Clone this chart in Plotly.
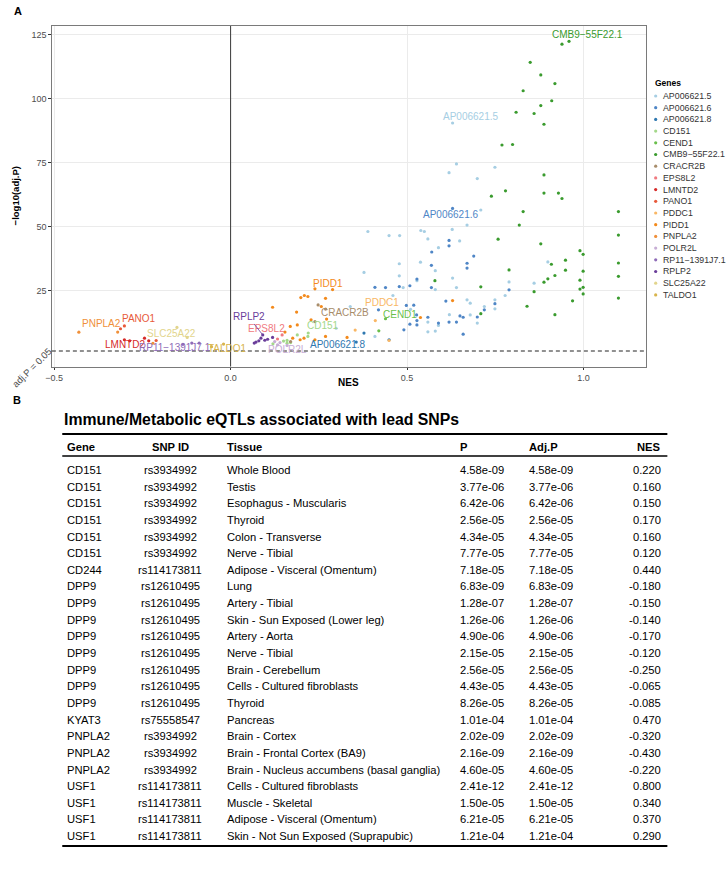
import math
import plotly.graph_objects as go

# ---------------- Panel A data (NES, -log10(adj.P)) ----------------
genes = ["AP006621.5", "AP006621.6", "AP006621.8", "CD151", "CEND1", "CMB9−55F22.1",
         "CRACR2B", "EPS8L2", "LMNTD2", "PANO1", "PDDC1", "PIDD1", "PNPLA2",
         "POLR2L", "RP11−1391J7.1", "RPLP2", "SLC25A22", "TALDO1"]

gene_colors = ["#a6cee3", "#4f86c6", "#2f78b0", "#a4d88a", "#6abf4b", "#3a9b2e",
               "#a88d6b", "#f07a80", "#d62a28", "#e85a3a", "#f9b765", "#f38a1c", "#f0903a",
               "#c7aed5", "#8f6cb8", "#6a3d9a", "#e2d58d", "#d8b44c"]

nes_AP006621_5 = [0.629, 0.640, 0.619, 0.749, 0.699, 0.709, 0.670, 0.628, 0.389, 0.449, 0.479, 0.539,
                  0.549, 0.559, 0.649, 0.589, 0.899, 0.860, 0.789, 0.778, 0.749, 0.749, 0.538, 0.580,
                  0.528, 0.629, 0.489, 0.580, 0.640, 0.670, 0.679, 0.719, 0.620, 0.679, 0.559, 0.589,
                  0.699, 0.559, 0.580, 0.378, 0.478, 0.478, 0.460, 0.339, 0.409, 0.299, 0.510]
lp_AP006621_5 = [90.4, 74.4, 71.0, 73.1, 68.7, 56.4, 50.5, 48.8, 48.0, 46.4, 46.4, 48.4,
                 48.0, 45.1, 44.3, 41.7, 36.1, 27.8, 28.3, 23.0, 21.3, 17.8, 36.0, 32.7,
                 28.8, 29.8, 26.1, 25.3, 26.1, 21.3, 20.0, 18.7, 15.5, 15.4, 12.6, 11.3,
                 12.2, 8.8, 9.1, 32.0, 35.4, 30.7, 23.0, 18.7, 7.0, 10.2, 17.6]

nes_AP006621_6 = [0.629, 0.619, 0.619, 0.570, 0.689, 0.670, 0.670, 0.789, 0.749, 0.569, 0.528, 0.508,
                  0.569, 0.610, 0.719, 0.519, 0.699, 0.650, 0.659, 0.559, 0.528, 0.528, 0.508, 0.491,
                  0.589, 0.619, 0.640, 0.659, 0.478, 0.409, 0.439, 0.419, 0.498, 0.527]
lp_AP006621_6 = [57.0, 44.5, 42.4, 40.0, 38.4, 35.6, 33.7, 25.2, 19.8, 34.8, 29.4, 26.8,
                 26.1, 20.8, 17.4, 19.2, 14.6, 15.0, 14.5, 14.5, 13.2, 11.5, 11.8, 9.6,
                 12.2, 12.6, 12.6, 7.9, 26.5, 26.2, 26.1, 17.4, 19.1, 15.4]

nes_AP006621_8 = [0.356, 0.378, 0.449]
lp_AP006621_8 = [4.8, 8.3, 5.7]

nes_CD151 = [0.220, 0.160, 0.150, 0.170, 0.160, 0.120, 0.219, 0.189]
lp_CD151 = [8.34, 5.42, 5.19, 4.59, 4.36, 4.11, 7.0, 7.6]

nes_CEND1 = [0.439, 0.420]
lp_CEND1 = [13.9, 9.2]

nes_CMB9 = [0.959, 0.939, 0.849, 0.879, 0.919, 0.829, 0.910, 0.879, 0.809, 0.860, 0.888, 0.769,
            0.799, 0.888, 0.779, 0.888, 0.929, 0.939, 0.739, 0.829, 0.818, 0.758, 0.879, 0.909,
            0.949, 0.990, 0.999, 0.949, 0.999, 0.919, 0.899, 0.888, 0.990, 0.990, 0.999, 0.999,
            0.860, 0.840, 0.919, 0.969, 0.789, 1.099, 1.099, 1.099, 1.099, 1.099, 0.579, 0.709,
            0.709]
lp_CMB9 = [122.3, 121.2, 114.1, 109.2, 105.8, 103.0, 99.1, 97.2, 94.6, 94.1, 89.9, 81.8,
           82.0, 70.1, 63.9, 63.0, 63.0, 60.9, 61.8, 55.8, 50.5, 45.0, 43.2, 35.2,
           36.8, 40.5, 39.1, 32.9, 32.5, 30.8, 29.5, 28.2, 29.0, 25.5, 26.2, 23.6,
           24.5, 18.8, 15.5, 20.9, 33.0, 55.8, 46.6, 35.7, 30.5, 22.0, 28.8, 26.4,
           15.9]

nes_CRACR2B = [0.248, 0.269, 0.239, 0.170]
lp_CRACR2B = [19.3, 17.7, 12.8, 5.0]

nes_EPS8L2 = [0.146, 0.133]
lp_EPS8L2 = [7.6, 6.0]

nes_LMNTD2 = [-0.301, -0.286, -0.244, -0.232]
lp_LMNTD2 = [5.7, 5.3, 6.3, 5.3]

nes_PANO1 = [-0.312, -0.301, -0.211]
lp_PANO1 = [10.0, 11.1, 5.4]

nes_PDDC1 = [0.410, 0.353, 0.449]
lp_PDDC1 = [13.2, 9.5, 5.4]

nes_PIDD1 = [0.239, 0.289, 0.199, 0.209, 0.219, 0.269, 0.119, 0.187, 0.257, 0.228, 0.189, 0.272,
             0.330, 0.269, 0.239, 0.197, 0.176, 0.154, 0.629, 0.538, 0.169, 0.208]
lp_PIDD1 = [25.6, 25.3, 22.2, 23.0, 22.6, 21.9, 18.4, 16.5, 18.7, 13.5, 11.5, 13.8,
            6.6, 7.0, 5.7, 5.7, 6.3, 8.7, 21.0, 14.4, 10.9, 6.3]

nes_PNPLA2 = [-0.320, -0.430, -0.220]
lp_PNPLA2 = [8.69, 8.67, 4.34]

nes_POLR2L = [0.133, 0.125, 0.140, 0.160]
lp_POLR2L = [3.7, 5.0, 4.6, 3.5]

nes_RP11 = [-0.110, -0.089, -0.135]
lp_RP11 = [4.4, 4.4, 3.9]

nes_RPLP2 = [0.091, 0.086, 0.080, 0.072, 0.067, 0.105, 0.119, 0.097]
lp_RPLP2 = [7.6, 6.3, 5.3, 4.8, 4.4, 5.9, 6.6, 5.5]

nes_SLC25A22 = [-0.152, -0.123]
lp_SLC25A22 = [10.5, 6.6]

nes_TALDO1 = [-0.054, -0.020]
lp_TALDO1 = [3.0, 4.0]

gene_nes = [nes_AP006621_5, nes_AP006621_6, nes_AP006621_8, nes_CD151, nes_CEND1, nes_CMB9,
            nes_CRACR2B, nes_EPS8L2, nes_LMNTD2, nes_PANO1, nes_PDDC1, nes_PIDD1, nes_PNPLA2,
            nes_POLR2L, nes_RP11, nes_RPLP2, nes_SLC25A22, nes_TALDO1]
gene_lp = [lp_AP006621_5, lp_AP006621_6, lp_AP006621_8, lp_CD151, lp_CEND1, lp_CMB9,
           lp_CRACR2B, lp_EPS8L2, lp_LMNTD2, lp_PANO1, lp_PDDC1, lp_PIDD1, lp_PNPLA2,
           lp_POLR2L, lp_RP11, lp_RPLP2, lp_SLC25A22, lp_TALDO1]

# gene label placement (data coords of label centre)
label_x = [0.679, 0.622, 0.303, 0.263, 0.481, 1.011, 0.325, 0.103, -0.299, -0.261, 0.430, 0.275,
           -0.367, 0.161, -0.157, 0.051, -0.168, -0.008]
label_y = [92.9, 54.5, 4.0, 11.1, 15.7, 124.8, 16.5, 10.0, 3.7, 14.1, 20.2, 27.8,
           11.9, 2.0, 2.8, 14.6, 8.3, 2.1]
label_segment = ["RPLP2", "EPS8L2"]

y_ticks = [25, 50, 75, 100, 125]
x_ticks = [-0.5, 0.0, 0.5, 1.0]
adj_threshold = 0.05

# ---------------- Panel B data ----------------
tbl_gene = ["CD151"] * 6 + ["CD244"] + ["DPP9"] * 8 + ["KYAT3"] + ["PNPLA2"] * 3 + ["USF1"] * 4
tbl_snp = (["rs3934992"] * 6 + ["rs114173811"] + ["rs12610495"] * 8 + ["rs75558547"]
           + ["rs3934992"] * 3 + ["rs114173811"] * 4)
tbl_tissue = ["Whole Blood", "Testis", "Esophagus - Muscularis", "Thyroid", "Colon - Transverse",
              "Nerve - Tibial", "Adipose - Visceral (Omentum)", "Lung", "Artery - Tibial",
              "Skin - Sun Exposed (Lower leg)", "Artery - Aorta", "Nerve - Tibial",
              "Brain - Cerebellum", "Cells - Cultured fibroblasts", "Thyroid", "Pancreas",
              "Brain - Cortex", "Brain - Frontal Cortex (BA9)",
              "Brain - Nucleus accumbens (basal ganglia)", "Cells - Cultured fibroblasts",
              "Muscle - Skeletal", "Adipose - Visceral (Omentum)",
              "Skin - Not Sun Exposed (Suprapubic)"]
tbl_p = [4.58e-09, 3.77e-06, 6.42e-06, 2.56e-05, 4.34e-05, 7.77e-05, 7.18e-05, 6.83e-09,
         1.28e-07, 1.26e-06, 4.90e-06, 2.15e-05, 2.56e-05, 4.43e-05, 8.26e-05, 1.01e-04,
         2.02e-09, 2.16e-09, 4.60e-05, 2.41e-12, 1.50e-05, 6.21e-05, 1.21e-04]
tbl_adjp = [4.58e-09, 3.77e-06, 6.42e-06, 2.56e-05, 4.34e-05, 7.77e-05, 7.18e-05, 6.83e-09,
            1.28e-07, 1.26e-06, 4.90e-06, 2.15e-05, 2.56e-05, 4.43e-05, 8.26e-05, 1.01e-04,
            2.02e-09, 2.16e-09, 4.60e-05, 2.41e-12, 1.50e-05, 6.21e-05, 1.21e-04]
tbl_nes = [0.220, 0.160, 0.150, 0.170, 0.160, 0.120, 0.440, -0.180, -0.150, -0.140, -0.170,
           -0.120, -0.250, -0.065, -0.085, 0.470, -0.320, -0.430, -0.220, 0.800, 0.340,
           0.370, 0.290]
tbl_headers = ["Gene", "SNP ID", "Tissue", "P", "Adj.P", "NES"]
table_title = "Immune/Metabolic eQTLs associated with lead SNPs"

# ---------------- layout helpers (pixel -> paper) ----------------
W, H = 726, 877
FONT = "Liberation Sans, Arial, Helvetica, sans-serif"


def px(x):
    return x / W


def py(y):
    return 1 - y / H


fig = go.Figure()

for g, c, xs, ys in zip(genes, gene_colors, gene_nes, gene_lp):
    fig.add_trace(go.Scatter(x=xs, y=ys, mode="markers", name=g, showlegend=False,
                             marker=dict(size=3.2, color=c, line=dict(width=0)),
                             xaxis="x", yaxis="y",
                             hovertemplate=g + "<br>NES=%{x}<br>-log10(adj.P)=%{y}<extra></extra>"))

# legend keys (helper axis in pixel units)
leg_top = 96
leg_step = 11.7
fig.add_trace(go.Scatter(x=[655] * len(genes), y=[leg_top + i * leg_step for i in range(len(genes))],
                         mode="markers", marker=dict(size=3.2, color=gene_colors),
                         xaxis="x3", yaxis="y3", showlegend=False, hoverinfo="skip"))

thr = -math.log10(adj_threshold)
x_lo, x_hi = -0.5065, 1.1765
y_lo, y_hi = -4.75, 128.3

axis_common = dict(showgrid=True, gridcolor="#ebebeb", gridwidth=1, zeroline=False,
                   showline=True, mirror=True, linecolor="#7a7a7a", linewidth=1,
                   ticks="outside", ticklen=2.5, tickcolor="#333333", tickwidth=0.8,
                   tickfont=dict(family=FONT, size=9, color="#4d4d4d"))

fig.update_layout(
    width=W, height=H, margin=dict(l=0, r=0, t=0, b=0),
    paper_bgcolor="white", plot_bgcolor="white",
    font=dict(family=FONT),
    xaxis=dict(domain=[px(45.3), px(645)], range=[x_lo, x_hi], tickvals=x_ticks,
               tickformat=".1f", anchor="y", **axis_common),
    yaxis=dict(domain=[py(366.5), py(26)], range=[y_lo, y_hi], tickvals=y_ticks,
               anchor="x", **axis_common),
    xaxis3=dict(domain=[px(648), 1], range=[648, W], visible=False, anchor="y3"),
    yaxis3=dict(domain=[py(310), py(80)], range=[310, 80], visible=False, anchor="x3"),
    showlegend=False,
)

shapes = []
shapes.append(dict(type="line", xref="x", yref="y domain", x0=0, x1=0, y0=0, y1=1,
                   line=dict(color="#3a3a3a", width=1)))
shapes.append(dict(type="line", xref="x domain", yref="y", x0=0, x1=1, y0=thr, y1=thr,
                   line=dict(color="#222222", width=1, dash="4px,3px")))

annotations = []


def note(text, x, y, size, color="black", xanchor="center", yanchor="middle", angle=0):
    return dict(text=text, x=px(x), y=py(y), xref="paper", yref="paper",
                xanchor=xanchor, yanchor=yanchor, textangle=angle, showarrow=False,
                font=dict(family=FONT, size=size, color=color))


annotations.append(note("<b>A</b>", 11, 11, 11))
annotations.append(note("<b>B</b>", 10, 400, 11))
annotations.append(note("<b>−log10(adj.P)</b>", 8.5, 196, 9.5, angle=-90))
annotations.append(note("<b>NES</b>", 345, 382, 10))
annotations.append(note("adj.P = 0.05", 25, 367, 9.5, color="#4d4d4d", angle=-45))

for g, c, xs, ys, lx, ly in zip(genes, gene_colors, gene_nes, gene_lp, label_x, label_y):
    i_top = max(range(len(ys)), key=lambda k: ys[k])
    if g in label_segment:
        annotations.append(dict(text=g, x=xs[i_top], y=ys[i_top], ax=lx, ay=ly,
                                xref="x", yref="y", axref="x", ayref="y",
                                showarrow=True, arrowhead=0, arrowwidth=0.8, arrowcolor=c,
                                standoff=0, font=dict(family=FONT, size=10, color=c)))
    else:
        annotations.append(dict(text=g, x=lx, y=ly, xref="x", yref="y", showarrow=False,
                                xanchor="center", yanchor="middle",
                                font=dict(family=FONT, size=10, color=c)))

# legend title + entries
annotations.append(note("<b>Genes</b>", 652, 82.5, 8.5, xanchor="left"))
for i, g in enumerate(genes):
    annotations.append(dict(text=g, x=660.5, y=leg_top + i * leg_step, xref="x3", yref="y3",
                            xanchor="left", yanchor="middle", showarrow=False,
                            font=dict(family=FONT, size=8.8, color="#333333")))

# ---------------- Panel B: table ----------------
annotations.append(note("<b>" + table_title + "</b>", 56, 419, 15.8, xanchor="left"))

col_x = [59, 165, 220, 455, 525, 662]
col_anchor = ["left", "center", "left", "left", "left", "right"]
header_y = 447
row0_y = 470
row_step = 16.64
TFS = 11.2

for h, cx, an in zip(tbl_headers, col_x, col_anchor):
    annotations.append(note("<b>" + h + "</b>", cx, header_y, TFS, xanchor=an))

cols = [tbl_gene, tbl_snp, tbl_tissue,
        [f"{v:.2e}" for v in tbl_p], [f"{v:.2e}" for v in tbl_adjp],
        [f"{v:.3f}" for v in tbl_nes]]
for col, cx, an in zip(cols, col_x, col_anchor):
    for r, val in enumerate(col):
        annotations.append(note(val, cx, row0_y + r * row_step, TFS, xanchor=an))

n_rows = len(tbl_gene)
rule_x0, rule_x1 = px(55.8), px(666.8)
for yy, wdt in [(434, 2), (456, 1.6), (row0_y + (n_rows - 1) * row_step + 10, 2)]:
    shapes.append(dict(type="line", xref="paper", yref="paper", x0=rule_x0, x1=rule_x1,
                       y0=py(yy), y1=py(yy), line=dict(color="black", width=wdt)))

fig.update_layout(shapes=shapes, annotations=annotations)

fig.write_html("out.html", config={"displayModeBar": False},
               post_script="document.body.style.margin='0px';")
